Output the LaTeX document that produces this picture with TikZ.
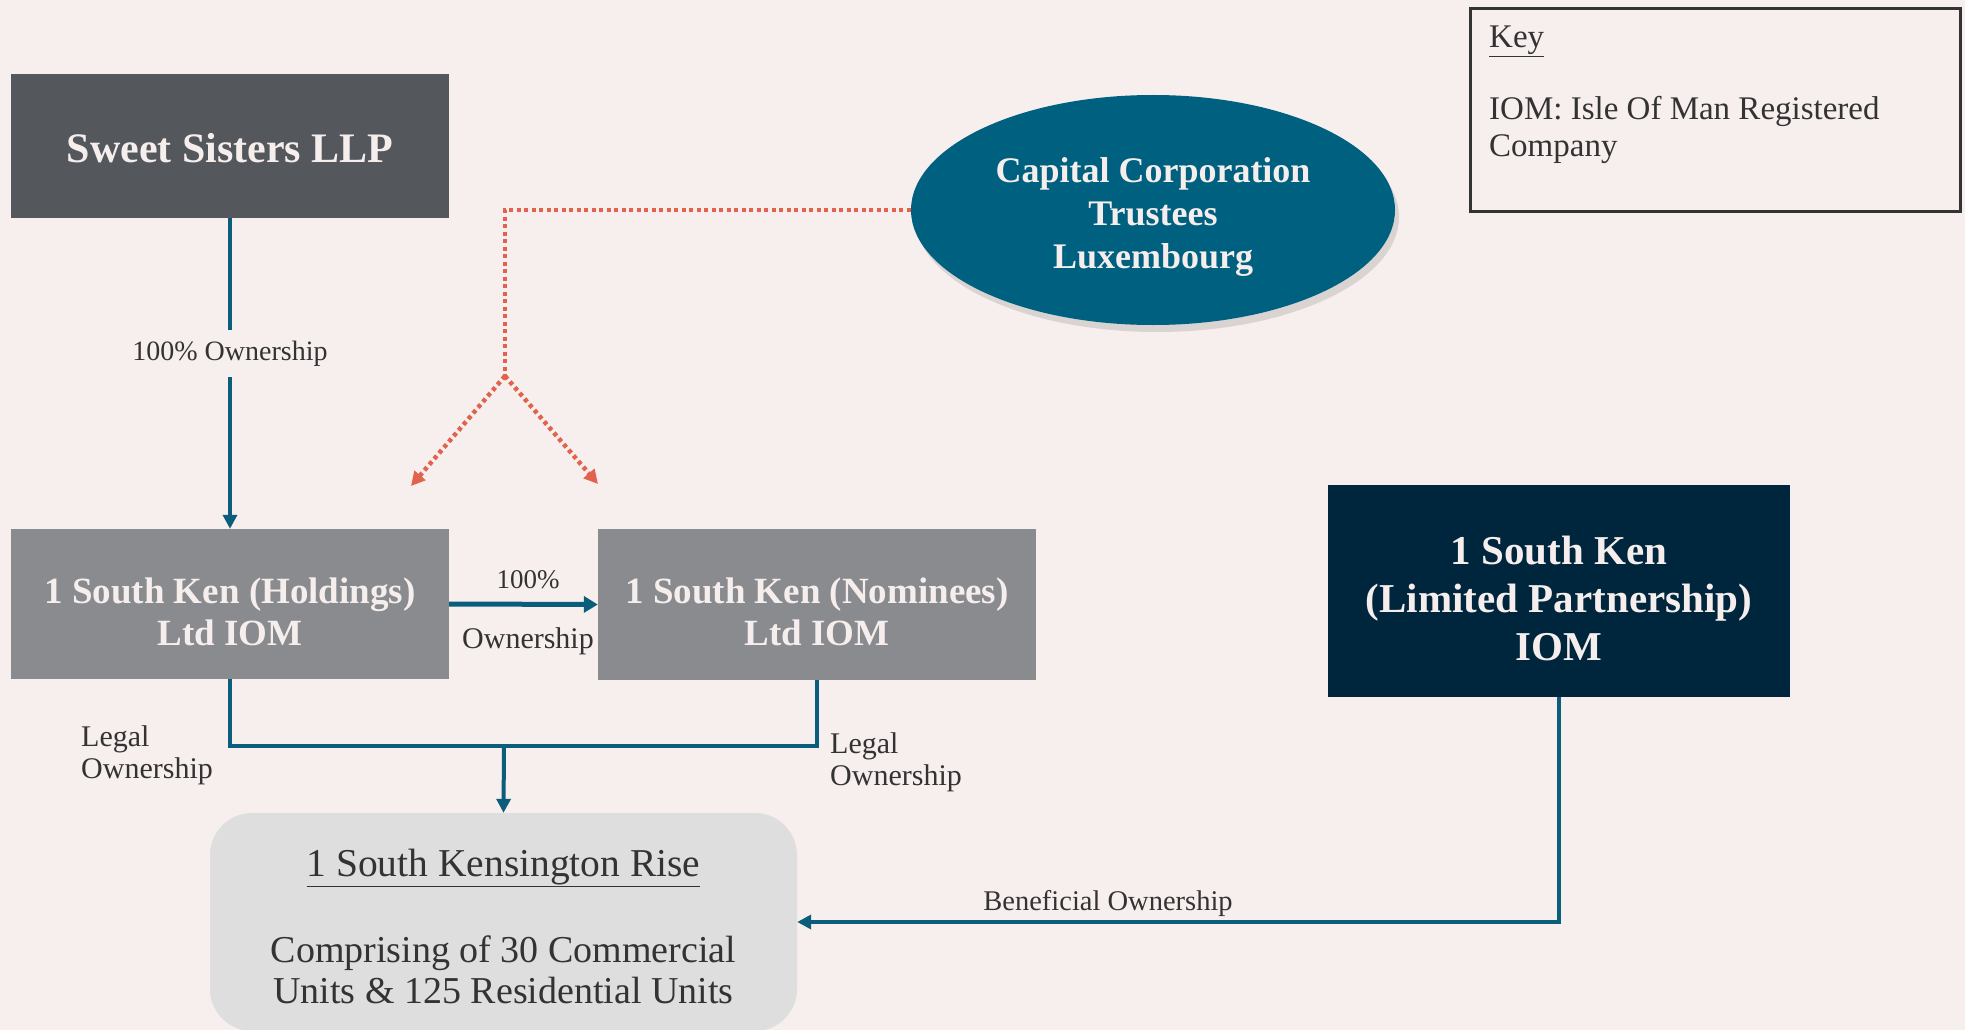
\documentclass[tikz,border=0pt]{standalone}
\usepackage{fontspec}
\setmainfont{Liberation Serif}
\usetikzlibrary{shapes.geometric,arrows.meta,shadows,calc}
\definecolor{bg}{HTML}{F7EFED}
\definecolor{sweetc}{HTML}{54575C}
\definecolor{greyc}{HTML}{898B8E}
\definecolor{navyc}{HTML}{00263E}
\definecolor{tealc}{HTML}{00607F}
\definecolor{linec}{HTML}{0A5E7C}
\definecolor{redc}{HTML}{E2634D}
\definecolor{risec}{HTML}{DEDEDE}
\definecolor{txtc}{HTML}{333333}
\definecolor{boxtxt}{HTML}{F5EEEC}
\begin{document}
\begin{tikzpicture}[x=1pt,y=-1pt,
  entity/.style={rectangle, inner sep=0pt},
  etext/.style={inner sep=0pt, text=boxtxt, align=center},
  conn/.style={draw=linec, line width=4pt},
  tip/.style={-{Triangle[length=14pt,width=14pt]}},
  dots/.style={draw=redc, line width=4.5pt, dash pattern=on 4pt off 3.5pt},
  lbl/.style={text=txtc, inner sep=0pt, font=\fontsize{28}{32}\selectfont}
]
\useasboundingbox (0,0) rectangle (1965,1030);
\fill[bg] (0,0) rectangle (1965,1030);

% shapes
\node[entity, fill=sweetc, minimum width=438pt, minimum height=144pt] (sweet) at (230,146) {};
\node[entity, fill=greyc, minimum width=438pt, minimum height=150pt] (hold) at (230,604) {};
\node[entity, fill=greyc, minimum width=438pt, minimum height=151pt] (nom) at (817,604.5) {};
\node[entity, fill=navyc, minimum width=462pt, minimum height=212pt] (lp) at (1559,591) {};
\node[ellipse, fill=tealc, inner sep=0pt, minimum width=484pt, minimum height=230pt,
      drop shadow={shadow xshift=4pt, shadow yshift=-7pt, opacity=0.25}] (cap) at (1153,210) {};
\node[rectangle, rounded corners=42pt, fill=risec, minimum width=587pt, minimum height=218pt,
      inner sep=0pt] (rise) at (503.5,922) {};
\node[draw=txtc, line width=3pt, minimum width=490pt, minimum height=203pt, inner sep=0pt] (key) at (1715.5,110) {};

% texts in shapes
\node[etext, font=\bfseries\fontsize{42}{44}\selectfont] (sweettxt) at (230,148) {Sweet Sisters LLP};
\node[etext, font=\bfseries\fontsize{37}{42.6}\selectfont] (holdtxt) at (230,612) {1 South Ken (Holdings)\\Ltd IOM};
\node[etext, font=\bfseries\fontsize{37}{42.6}\selectfont] (nomtxt) at (817,612) {1 South Ken (Nominees)\\Ltd IOM};
\node[etext, font=\bfseries\fontsize{41}{48}\selectfont] (lptxt) at (1559,598) {1 South Ken\\(Limited Partnership)\\IOM};
\node[etext, font=\bfseries\fontsize{36}{42.6}\selectfont] (captxt) at (1153,217) {Capital Corporation\\Trustees\\Luxembourg};
\node[text=txtc, inner sep=0pt, font=\fontsize{39.5}{40}\selectfont] (risetitle) at (503.5,868)
      {\underline{1 South Kensington Rise}};
\node[text=txtc, inner sep=0pt, align=center, font=\fontsize{38}{41}\selectfont] (risebody) at (503.5,970)
      {Comprising of 30 Commercial\\Units \& 125 Residential Units};
\node[text=txtc, inner sep=0pt, anchor=west, font=\fontsize{33}{36}\selectfont] (keytitle) at (1489,41) {\underline{Key}};
\node[text=txtc, inner sep=0pt, anchor=west, align=left, font=\fontsize{33}{37}\selectfont] (keytext) at (1489,130)
      {IOM: Isle Of Man Registered\\Company};

% connectors
\draw[conn, tip] (sweet.south) -- node[lbl, fill=bg, pos=0.435, inner ysep=11pt] (l100) {100\% Ownership} (hold.north);
\draw[conn, line width=5pt, -{Triangle[length=14pt,width=16pt]}] (hold.east) -- (nom.west);
\node[lbl, font=\fontsize{27}{32}\selectfont] (pct) at (528,580) {100\%};
\node[lbl, font=\fontsize{30}{32}\selectfont] (own) at (528,641) {Ownership};
\coordinate (join) at (504,746);
\draw[conn] (hold.south) |- (join) -| (nom.south);
\draw[conn, tip] (join) -- (rise.north);
\node[lbl, anchor=west, align=left, font=\fontsize{30}{32}\selectfont] (legal1) at (81,755) {Legal\\Ownership};
\node[lbl, anchor=west, align=left, font=\fontsize{30}{32}\selectfont] (legal2) at (830,762) {Legal\\Ownership};
\draw[conn, tip] (lp.south) |- (rise.east);
\node[lbl, font=\fontsize{28.5}{32}\selectfont] (ben) at (1108,903) {Beneficial Ownership};

% dotted red
\coordinate (corner) at (505,210);
\coordinate (fork) at (505,376);
\coordinate (ta) at (411,486);
\coordinate (tb) at (598,484);
\draw[dots] (cap.west) -- (corner) -- (fork);
\draw[dots, -{Triangle[length=14pt,width=14pt]}] (fork) -- (ta);
\draw[dots, -{Triangle[length=14pt,width=14pt]}] (fork) -- (tb);
\end{tikzpicture}
\end{document}
